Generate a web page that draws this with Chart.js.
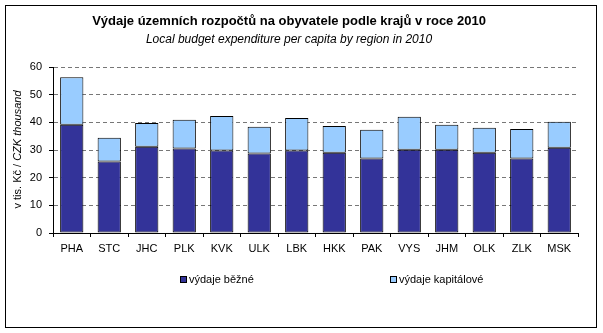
<!DOCTYPE html>
<html>
<head>
<meta charset="utf-8">
<script src="https://cdn.jsdelivr.net/npm/chart.js@4"></script>
<style>
  html, body { margin: 0; padding: 0; background: #fff; }
  #wrap { width: 603px; height: 333px; }
</style>
</head>
<body>
<div id="wrap"><canvas id="chart" width="603" height="333"></canvas></div>
<script>
const regions = ["PHA", "STC", "JHC", "PLK", "KVK", "ULK", "LBK", "HKK", "PAK", "VYS", "JHM", "OLK", "ZLK", "MSK"];
const currentSpend = [39.1, 25.8, 31.2, 30.5, 29.8, 28.7, 29.8, 29.0, 26.9, 30.1, 30.1, 29.0, 26.9, 30.8];
const capitalSpend = [17.2, 8.6, 8.6, 10.4, 12.5, 9.7, 11.8, 9.7, 10.4, 11.9, 9.0, 9.0, 10.7, 9.4];
const seriesNames = ["výdaje běžné", "výdaje kapitálové"];
const yTicks = [0, 10, 20, 30, 40, 50, 60];

const FONT = "'Liberation Sans', Arial, sans-serif";

// outer frame, y-axis caption with italic part, custom spread legend
const decor = {
  id: "decor",
  beforeDraw(chart) {
    const ctx = chart.ctx;
    ctx.save();
    ctx.fillStyle = "#fff";
    ctx.fillRect(0, 0, chart.width, chart.height);
    ctx.restore();
  },
  afterDraw(chart) {
    const ctx = chart.ctx;
    ctx.save();
    ctx.strokeStyle = "#000";
    ctx.lineWidth = 1;
    ctx.strokeRect(5.5, 5.5, 591, 322);

    // rotated axis caption
    ctx.translate(21, 149.5);
    ctx.rotate(-Math.PI / 2);
    ctx.fillStyle = "#000";
    ctx.textBaseline = "alphabetic";
    const a = "v tis. Kč / ", b = "CZK thousand";
    ctx.font = "11px " + FONT;
    const wa = ctx.measureText(a).width;
    ctx.font = "italic 11px " + FONT;
    const wb = ctx.measureText(b).width;
    let x = -(wa + wb) / 2;
    ctx.font = "11px " + FONT;
    ctx.fillText(a, x, 0);
    ctx.font = "italic 11px " + FONT;
    ctx.fillText(b, x + wa, 0);
    ctx.restore();

    // legend
    ctx.save();
    ctx.font = "11px " + FONT;
    ctx.textBaseline = "middle";
    const legendX = [180, 390];
    chart.data.datasets.forEach((ds, i) => {
      const lx = legendX[i] + 0.5, ly = 276.5;
      ctx.fillStyle = ds.backgroundColor;
      ctx.fillRect(lx, ly, 6, 6);
      ctx.strokeStyle = "#000";
      ctx.strokeRect(lx, ly, 6, 6);
      ctx.fillStyle = "#000";
      ctx.fillText(ds.label, legendX[i] + 9, 280);
    });
    ctx.restore();
  }
};

new Chart(document.getElementById("chart"), {
  type: "bar",
  data: {
    labels: regions,
    datasets: [
      {
        label: seriesNames[0],
        data: currentSpend,
        backgroundColor: "#333399",
        borderColor: "#000",
        borderWidth: 1,
        borderSkipped: false,
        barPercentage: 0.62,
        categoryPercentage: 1
      },
      {
        label: seriesNames[1],
        data: capitalSpend,
        backgroundColor: "#99CCFF",
        borderColor: "#000",
        borderWidth: 1,
        borderSkipped: false,
        barPercentage: 0.62,
        categoryPercentage: 1
      }
    ]
  },
  options: {
    responsive: false,
    animation: false,
    layout: { padding: { left: 0, right: 25, top: 0, bottom: 75 } },
    plugins: {
      legend: { display: false },
      tooltip: { enabled: false },
      title: {
        display: true,
        text: "Výdaje územních rozpočtů na obyvatele podle krajů v roce 2010",
        color: "#000",
        font: { family: FONT, size: 13, weight: "bold" },
        padding: { top: 14, bottom: 0 }
      },
      subtitle: {
        display: true,
        text: "Local budget expenditure per capita by region in 2010",
        color: "#000",
        font: { family: FONT, size: 12, style: "italic" },
        padding: { top: 3, bottom: 20 }
      }
    },
    scales: {
      x: {
        stacked: true,
        afterFit(scale) { scale.height = 25; },
        grid: {
          offset: true,
          drawOnChartArea: false,
          drawTicks: true,
          tickLength: 4,
          tickColor: "#000"
        },
        border: { display: true, color: "#000", width: 1 },
        ticks: { color: "#000", font: { family: FONT, size: 11 }, padding: 5, maxRotation: 0 }
      },
      y: {
        stacked: true,
        min: 0,
        max: 60,
        afterFit(scale) { scale.width = 53; },
        afterBuildTicks(scale) { scale.ticks = yTicks.map(v => ({ value: v })); },
        grid: {
          color: "#777777",
          drawTicks: true,
          tickLength: 4,
          tickColor: "#000"
        },
        border: { display: true, color: "#000", width: 1, dash: [4, 3] },
        ticks: { color: "#000", font: { family: FONT, size: 11 }, padding: 7 }
      }
    }
  },
  plugins: [decor]
});
</script>
</body>
</html>
